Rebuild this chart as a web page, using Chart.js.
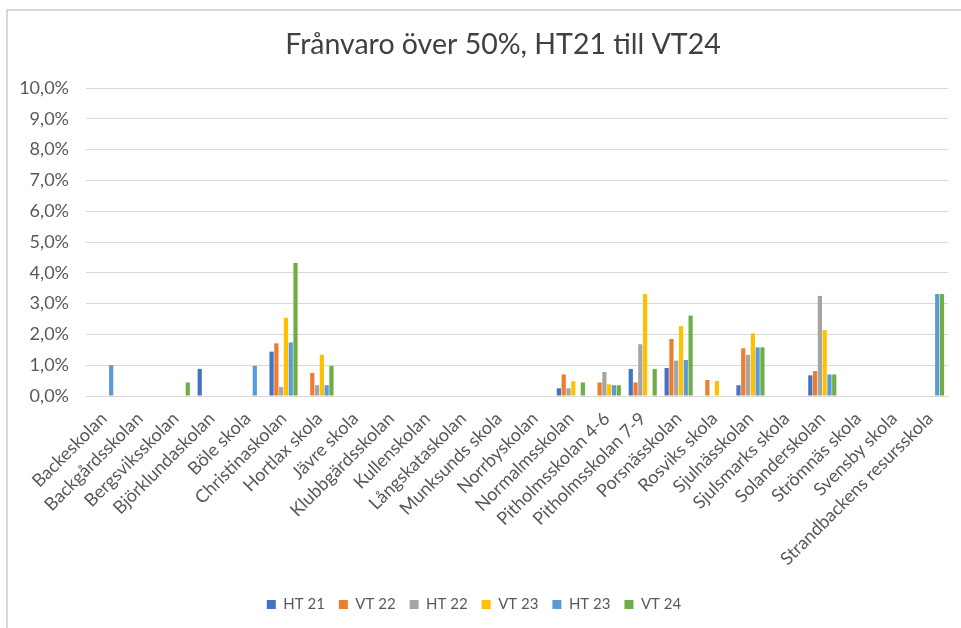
<!DOCTYPE html>
<html>
<head>
<meta charset="utf-8">
<script src="https://cdn.jsdelivr.net/npm/chart.js@4"></script>
<style>
  html, body { margin: 0; padding: 0; background: #fff; }
  #wrap { position: relative; width: 961px; height: 628px; overflow: hidden; }
  #frame { position: absolute; left: 6px; top: 9px; width: 1000px; height: 700px; border: 2px solid #d9d9d9; }
  canvas { position: absolute; left: 0; top: 0; }
</style>
</head>
<body>
<div id="wrap">
  <div id="frame"></div>
  <canvas id="chart" width="961" height="628"></canvas>
</div>
<script>
// Skolor
const schools = ['Backeskolan', 'Backgårdsskolan', 'Bergsviksskolan', 'Björklundaskolan', 'Böle skola',
    'Christinaskolan', 'Hortlax skola', 'Jävre skola', 'Klubbgärdsskolan', 'Kullenskolan',
    'Långskataskolan', 'Munksunds skola', 'Norrbyskolan', 'Normalmsskolan', 'Pitholmsskolan 4-6',
    'Pitholmsskolan 7-9', 'Porsnässkolan', 'Rosviks skola', 'Sjulnässkolan', 'Sjulsmarks skola',
    'Solanderskolan', 'Strömnäs skola', 'Svensby skola', 'Strandbackens resursskola'];

// Frånvaro i procent per termin
const ht21 = [0, 0, 0, 0.88, 0, 1.44, 0, 0, 0, 0, 0, 0, 0, 0.25, 0, 0.88, 0.91, 0, 0.35, 0, 0.67, 0, 0, 0];
const vt22 = [0, 0, 0, 0, 0, 1.71, 0.75, 0, 0, 0, 0, 0, 0, 0.70, 0.44, 0.44, 1.85, 0.52, 1.55, 0, 0.81, 0, 0, 0];
const ht22 = [0, 0, 0, 0, 0, 0.29, 0.35, 0, 0, 0, 0, 0, 0, 0.25, 0.78, 1.68, 1.15, 0, 1.34, 0, 3.25, 0, 0, 0];
const vt23 = [0, 0, 0, 0, 0, 2.54, 1.34, 0, 0, 0, 0, 0, 0, 0.48, 0.38, 3.31, 2.27, 0.49, 2.03, 0, 2.14, 0, 0, 0];
const ht23 = [1.00, 0, 0, 0, 0.98, 1.74, 0.35, 0, 0, 0, 0, 0, 0, 0, 0.35, 0, 1.17, 0, 1.58, 0, 0.70, 0, 0, 3.31];
const vt24 = [0, 0, 0.44, 0, 0, 4.32, 0.98, 0, 0, 0, 0, 0, 0, 0.44, 0.35, 0.88, 2.61, 0, 1.58, 0, 0.70, 0, 0, 3.31];

const seriesNames = ['HT 21', 'VT 22', 'HT 22', 'VT 23', 'HT 23', 'VT 24'];
const seriesValues = [ht21, vt22, ht22, vt23, ht23, vt24];
const seriesColors = ['#4472C4', '#ED7D31', '#A5A5A5', '#FFC000', '#5B9BD5', '#70AD47'];

const titleText = 'Frånvaro över 50%, HT21 till VT24';

const font = 'Lato, "Open Sans", sans-serif';
const textColor = '#595959';

// Titeln ligger centrerad över hela diagramramen, inte över canvasen
const titlePlugin = {
    id: 'frameTitle',
    afterDraw: function(chart) {
        const c = chart.ctx;
        c.save();
        c.font = '28.5px ' + font;
        c.fillStyle = '#404040';
        c.textAlign = 'center';
        c.textBaseline = 'middle';
        c.fillText(titleText, 503, 45);
        c.restore();
    }
};

const ctx = document.getElementById('chart').getContext('2d');

const chart = new Chart(ctx, {
    type: 'bar',
    data: {
        labels: schools,
        datasets: seriesNames.map(function(name, i) {
            return {
                label: name,
                data: seriesValues[i],
                backgroundColor: seriesColors[i],
                borderWidth: 0,
                categoryPercentage: 0.8,
                barPercentage: 0.88
            };
        })
    },
    plugins: [titlePlugin],
    options: {
        responsive: false,
        animation: false,
        layout: {
            padding: { left: 0, right: 13, top: 88, bottom: 6 }
        },
        plugins: {
            title: { display: false },
            legend: {
                position: 'bottom',
                labels: {
                    color: textColor,
                    font: { family: font, size: 15 },
                    boxWidth: 9,
                    boxHeight: 9,
                    padding: 14
                }
            },
            tooltip: { enabled: false }
        },
        scales: {
            x: {
                grid: { display: false },
                border: { color: '#d9d9d9', width: 1 },
                ticks: {
                    color: textColor,
                    font: { family: font, size: 18 },
                    maxRotation: 45,
                    minRotation: 45,
                    autoSkip: false,
                    padding: 4
                },
                afterFit: function(scale) {
                    scale.height = 187;
                }
            },
            y: {
                min: 0,
                max: 10,
                ticks: {
                    stepSize: 1,
                    color: textColor,
                    font: { family: font, size: 18 },
                    padding: 17,
                    callback: function(value) {
                        return value.toFixed(1).replace('.', ',') + '%';
                    }
                },
                grid: { color: '#d9d9d9', drawTicks: false },
                border: { display: false },
                afterFit: function(scale) {
                    scale.width = 86;
                }
            }
        }
    }
});
</script>
</body>
</html>
